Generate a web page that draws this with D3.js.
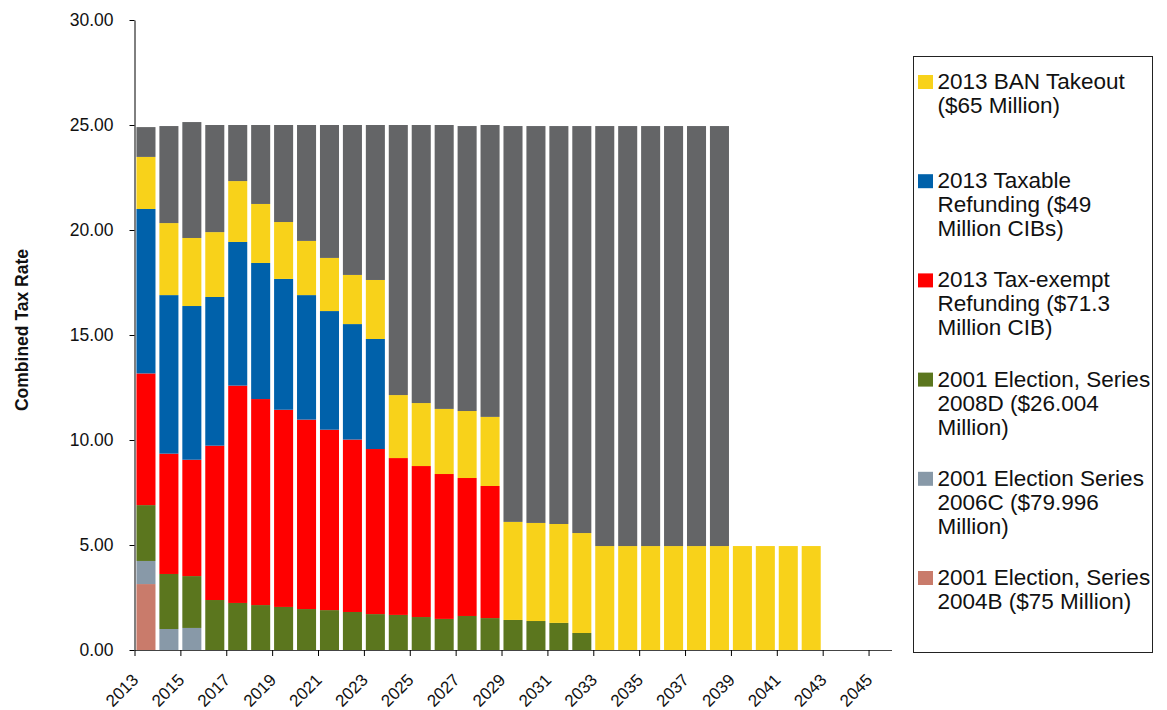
<!DOCTYPE html>
<html>
<head>
<meta charset="utf-8">
<script src="https://cdn.jsdelivr.net/npm/d3@7/dist/d3.min.js"></script>
<style>
  html, body { margin: 0; padding: 0; background: #fff; }
  svg { display: block; font-family: "Liberation Sans", Arial, sans-serif; }
</style>
</head>
<body>
<svg id="chart" width="1167" height="710"></svg>
<script>
// categories on the axis (bars exist for 2013..2042)
const years = [2013, 2014, 2015, 2016, 2017, 2018, 2019, 2020, 2021, 2022, 2023,
  2024, 2025, 2026, 2027, 2028, 2029, 2030, 2031, 2032, 2033, 2034, 2035, 2036,
  2037, 2038, 2039, 2040, 2041, 2042, 2043, 2044, 2045];
const tickYears = [2013, 2015, 2017, 2019, 2021, 2023, 2025, 2027, 2029, 2031,
  2033, 2035, 2037, 2039, 2041, 2043, 2045];
const rateTicks = [0, 5, 10, 15, 20, 25, 30];

// tax rate per series, stacked bottom -> top
const series2004B = [3.14];
const series2006C = [1.10, 1.00, 1.05];
const series2008D = [2.66, 2.62, 2.47, 2.38, 2.24, 2.14, 2.05, 1.95, 1.90, 1.81,
  1.71, 1.67, 1.57, 1.48, 1.62, 1.52, 1.43, 1.38, 1.29, 0.81];
const taxExempt = [6.27, 5.73, 5.54, 7.35, 10.35, 9.81, 9.39, 9.02, 8.59, 8.21,
  7.86, 7.47, 7.19, 6.90, 6.57, 6.29];
const taxable = [7.83, 7.55, 7.32, 7.08, 6.84, 6.48, 6.23, 5.93, 5.65, 5.50, 5.24];
const banTakeout = [2.48, 3.43, 3.24, 3.09, 2.90, 2.81, 2.71, 2.58, 2.53, 2.34,
  2.81, 3.00, 3.00, 3.10, 3.19, 3.29, 4.67, 4.67, 4.71, 4.76, 4.95, 4.95, 4.95,
  4.95, 4.95, 4.95, 4.95, 4.95, 4.95, 4.95];
const remaining = [1.42, 4.62, 5.52, 5.10, 2.67, 3.76, 4.62, 5.52, 6.33, 7.14,
  7.38, 12.86, 13.24, 13.52, 13.57, 13.90, 18.85, 18.90, 18.95, 19.38, 20.00,
  20.00, 20.00, 20.00, 20.00, 20.00];

const seriesList = [
  { key: "s2004B", values: series2004B, color: "#c97b6b",
    label: ["2001 Election, Series", "2004B ($75 Million)"] },
  { key: "s2006C", values: series2006C, color: "#8899a8",
    label: ["2001 Election Series", "2006C ($79.996", "Million)"] },
  { key: "s2008D", values: series2008D, color: "#5b761e",
    label: ["2001 Election, Series", "2008D ($26.004", "Million)"] },
  { key: "exempt", values: taxExempt, color: "#ff0000",
    label: ["2013 Tax-exempt", "Refunding ($71.3", "Million CIB)"] },
  { key: "taxable", values: taxable, color: "#0061aa",
    label: ["2013 Taxable", "Refunding ($49", "Million CIBs)"] },
  { key: "ban", values: banTakeout, color: "#f8d21a",
    label: ["2013 BAN Takeout", "($65 Million)"] },
  { key: "rest", values: remaining, color: "#646567", label: null }
];

const table = years.map((yr, i) => {
  const row = { year: yr };
  seriesList.forEach(s => { row[s.key] = s.values[i] || 0; });
  return row;
});

const svg = d3.select("#chart");
const plot = { left: 134.5, right: 891.5, top: 20, bottom: 650 };

const x = d3.scaleBand().domain(years).range([plot.left, plot.right])
  .paddingInner(0.17).paddingOuter(0.085);
const xEdge = d3.scaleLinear().domain([2013, 2046]).range([plot.left, plot.right]);
const y = d3.scaleLinear().domain([0, 30]).range([plot.bottom, plot.top]);

const stacked = d3.stack().keys(seriesList.map(s => s.key))(table);
const colorOf = d3.scaleOrdinal().domain(seriesList.map(s => s.key))
  .range(seriesList.map(s => s.color));

svg.append("g")
  .selectAll("g")
  .data(stacked)
  .join("g")
  .attr("fill", d => colorOf(d.key))
  .selectAll("rect")
  .data(d => d.filter(p => p[1] - p[0] > 0))
  .join("rect")
  .attr("x", d => x(d.data.year))
  .attr("width", x.bandwidth())
  .attr("y", d => y(d[1]))
  .attr("height", d => y(d[0]) - y(d[1]));

// y axis
const yAxis = svg.append("g")
  .attr("transform", `translate(${plot.left},0)`)
  .call(d3.axisLeft(y).tickValues(rateTicks).tickFormat(d3.format(".2f"))
    .tickSize(5).tickSizeOuter(0).tickPadding(16));
yAxis.select(".domain").attr("stroke", "#000");
yAxis.selectAll("text").attr("font-size", 17.5).attr("fill", "#111")
  .attr("font-family", "Liberation Sans, Arial, sans-serif");

// x axis, ticks on category edges
const xAxis = svg.append("g")
  .attr("transform", `translate(0,${plot.bottom})`)
  .call(d3.axisBottom(xEdge).tickValues(tickYears).tickFormat(d3.format("d"))
    .tickSize(6).tickSizeOuter(0));
xAxis.select(".domain").attr("stroke", "#444");
xAxis.selectAll("text")
  .attr("font-size", 17).attr("fill", "#111")
  .attr("font-family", "Liberation Sans, Arial, sans-serif")
  .attr("text-anchor", "end")
  .attr("x", 0).attr("y", 0).attr("dy", 0)
  .attr("transform", "translate(4.5,31) rotate(-45)");

svg.append("text")
  .attr("transform", `translate(28,330) rotate(-90)`)
  .attr("text-anchor", "middle")
  .attr("font-size", 17.5)
  .attr("font-weight", "bold")
  .attr("fill", "#111")
  .text("Combined Tax Rate");

// legend
svg.append("rect")
  .attr("x", 913.5).attr("y", 56.5)
  .attr("width", 239).attr("height", 596)
  .attr("fill", "none").attr("stroke", "#222");

const legendItems = seriesList.filter(s => s.label).reverse();
const lg = svg.append("g")
  .selectAll("g")
  .data(legendItems)
  .join("g")
  .attr("transform", (d, i) => `translate(918,${75 + i * 99.2})`);
lg.append("rect").attr("width", 15).attr("height", 14).attr("fill", d => d.color);
lg.append("text")
  .attr("x", 19.5)
  .attr("y", 14)
  .attr("font-size", 22.5)
  .attr("fill", "#111")
  .selectAll("tspan")
  .data(d => d.label)
  .join("tspan")
  .attr("x", 19.5)
  .attr("dy", (d, i) => i === 0 ? 0 : 24)
  .text(d => d);
</script>
</body>
</html>
